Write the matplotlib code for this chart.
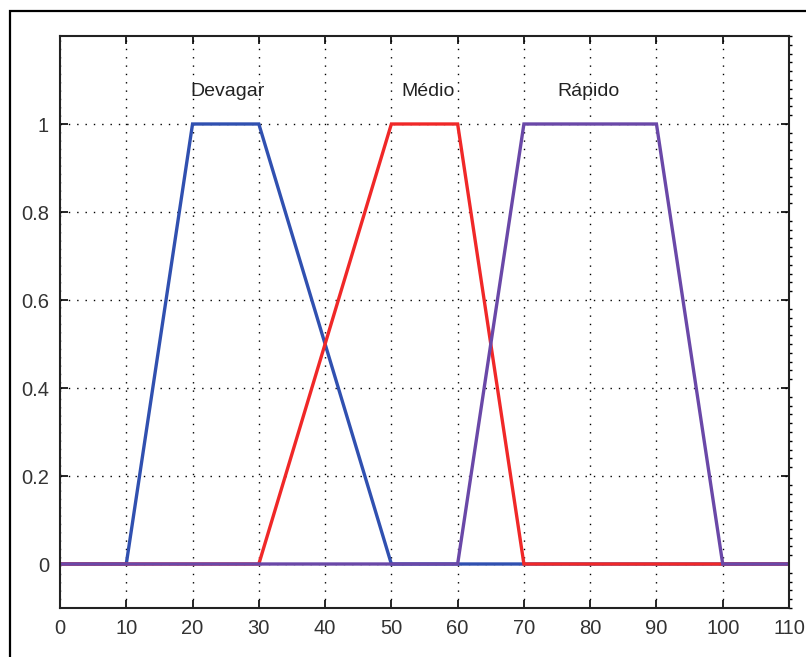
import numpy as np
import matplotlib
matplotlib.use("Agg")
import matplotlib.pyplot as plt
from matplotlib.patches import Rectangle

plt.rcParams['font.family'] = ['Liberation Sans', 'DejaVu Sans']

# Universe of discourse and trapezoid membership functions (a, b, c, d)
x_range = [0, 110]
mf_names = ["Devagar", "Médio", "Rápido"]
mf_params = [[10, 20, 30, 50],
             [30, 50, 60, 70],
             [60, 70, 90, 100]]
mf_colors = ["#3050B0", "#F02828", "#6A48A8"]
label_x = [25.3, 55.5, 79.8]
label_y = 1.075


def trapmf(x, a, b, c, d):
    y = np.minimum((x - a) / (b - a), (d - x) / (d - c))
    y = np.minimum(y, 1.0)
    return np.maximum(y, 0.0)


x = np.linspace(x_range[0], x_range[1], 2201)

fig = plt.figure(figsize=(8.06, 6.57), dpi=100)
ax = fig.add_axes([60 / 806, 1 - 608 / 657, 729 / 806, 572 / 657])

for p, c in zip(mf_params, mf_colors):
    ax.plot(x, trapmf(x, *p), color=c, linewidth=2.4, solid_joinstyle='miter')

for name, lx in zip(mf_names, label_x):
    ax.text(lx, label_y, name, ha='center', va='center', fontsize=14, color='#222222')

ax.set_xlim(0, 110)
ax.set_ylim(-0.1, 1.2)
ax.set_xticks(np.arange(0, 111, 10))
ax.set_yticks([0, 0.2, 0.4, 0.6, 0.8, 1])
ax.set_yticklabels(["0", "0.2", "0.4", "0.6", "0.8", "1"])
ax.grid(True, color='black', linestyle=(0, (1, 5)), linewidth=1.0)
ax.tick_params(direction='in', length=6, width=1.2, top=True, right=True,
               labelsize=14.5, labelcolor='#333333', pad=8)
ax.set_yticks(np.arange(-0.1, 1.2001, 0.02), minor=True)
ax.tick_params(axis='y', which='minor', left=False, right=True, direction='out', length=2, width=1)
for s in ax.spines.values():
    s.set_linewidth(1.5)
    s.set_color('#222222')

# outer frame (cropped at right and bottom)
fig.patches.append(Rectangle((10 / 806, -0.2), 1.2, 1.2 - 11 / 657,
                             transform=fig.transFigure, fill=False,
                             edgecolor='black', linewidth=1.6))

fig.savefig("out.png", dpi=100)
